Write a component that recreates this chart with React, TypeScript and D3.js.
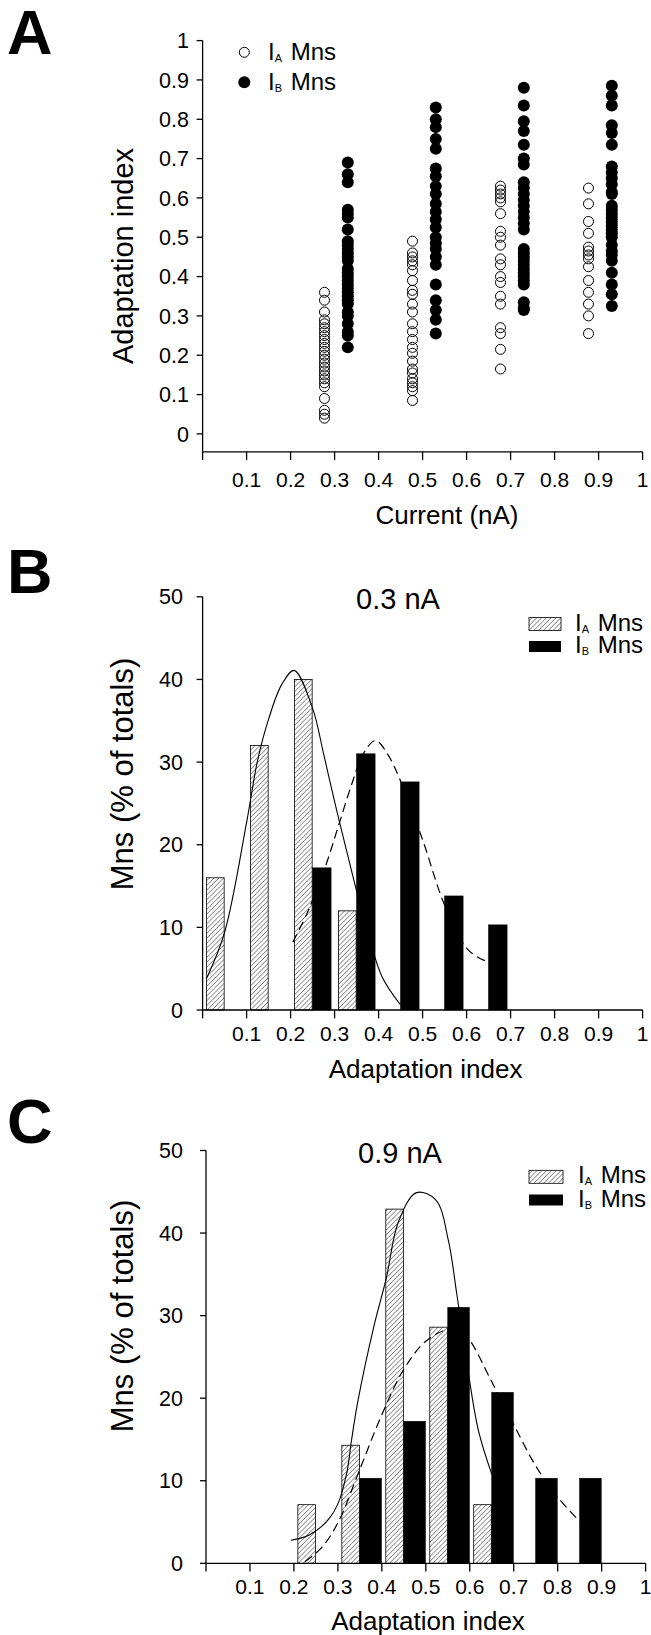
import React from 'react';
import * as d3 from 'd3';

// ---------- DATA ----------
const currents = [0.3, 0.5, 0.7, 0.9];

const iaAdaptation03 = [0.36, 0.34, 0.31, 0.29, 0.28, 0.27, 0.26, 0.25, 0.24, 0.23, 0.22, 0.21, 0.2, 0.19, 0.18, 0.17, 0.16, 0.15, 0.14, 0.13, 0.12, 0.09, 0.06, 0.05, 0.04];
const iaAdaptation05 = [0.49, 0.46, 0.45, 0.44, 0.43, 0.415, 0.39, 0.365, 0.355, 0.33, 0.31, 0.28, 0.26, 0.24, 0.22, 0.205, 0.185, 0.165, 0.155, 0.14, 0.13, 0.12, 0.11, 0.085];
const iaAdaptation07 = [0.63, 0.62, 0.61, 0.6, 0.59, 0.56, 0.515, 0.5, 0.48, 0.445, 0.43, 0.4, 0.385, 0.35, 0.33, 0.27, 0.255, 0.215, 0.165];
const iaAdaptation09 = [0.625, 0.585, 0.54, 0.51, 0.475, 0.465, 0.455, 0.445, 0.425, 0.39, 0.36, 0.33, 0.3, 0.255];

const ibAdaptation03 = [0.69, 0.66, 0.64, 0.57, 0.56, 0.55, 0.52, 0.49, 0.48, 0.47, 0.46, 0.45, 0.44, 0.42, 0.41, 0.4, 0.39, 0.38, 0.37, 0.36, 0.35, 0.34, 0.33, 0.31, 0.3, 0.28, 0.26, 0.25, 0.22];
const ibAdaptation05 = [0.83, 0.8, 0.78, 0.75, 0.725, 0.675, 0.655, 0.63, 0.61, 0.585, 0.565, 0.545, 0.525, 0.5, 0.485, 0.47, 0.45, 0.43, 0.38, 0.34, 0.315, 0.29, 0.255];
const ibAdaptation07 = [0.88, 0.835, 0.795, 0.77, 0.735, 0.7, 0.685, 0.64, 0.625, 0.61, 0.595, 0.58, 0.565, 0.55, 0.535, 0.52, 0.47, 0.46, 0.45, 0.44, 0.43, 0.42, 0.41, 0.4, 0.39, 0.38, 0.335, 0.32, 0.315];
const ibAdaptation09 = [0.885, 0.86, 0.835, 0.785, 0.765, 0.735, 0.68, 0.665, 0.65, 0.635, 0.615, 0.61, 0.58, 0.57, 0.56, 0.55, 0.54, 0.53, 0.52, 0.51, 0.5, 0.48, 0.465, 0.455, 0.44, 0.41, 0.38, 0.355, 0.325];

const iaByCurrent = [iaAdaptation03, iaAdaptation05, iaAdaptation07, iaAdaptation09];
const ibByCurrent = [ibAdaptation03, ibAdaptation05, ibAdaptation07, ibAdaptation09];

const xTicks = [0, 0.1, 0.2, 0.3, 0.4, 0.5, 0.6, 0.7, 0.8, 0.9, 1];
const xTickLabels = ['', '0.1', '0.2', '0.3', '0.4', '0.5', '0.6', '0.7', '0.8', '0.9', '1'];
const yTicksA = [0, 0.1, 0.2, 0.3, 0.4, 0.5, 0.6, 0.7, 0.8, 0.9, 1];
const yTickLabelsA = ['0', '0.1', '0.2', '0.3', '0.4', '0.5', '0.6', '0.7', '0.8', '0.9', '1'];
const yTicksHist = [0, 10, 20, 30, 40, 50];

// Histogram 0.3 nA (bin lower edges, % of totals)
const binsB_IA = [0, 0.1, 0.2, 0.3];
const pctB_IA = [16, 32, 40, 12];
const binsB_IB = [0.2, 0.3, 0.4, 0.5, 0.6];
const pctB_IB = [17.2, 31.0, 27.6, 13.8, 10.3];

// Histogram 0.9 nA
const binsC_IA = [0.2, 0.3, 0.4, 0.5, 0.6];
const pctC_IA = [7.1, 14.3, 42.9, 28.6, 7.1];
const binsC_IB = [0.3, 0.4, 0.5, 0.6, 0.7, 0.8];
const pctC_IB = [10.3, 17.2, 31.0, 20.7, 10.3, 10.3];

// Fitted curves
const fitB_IA_x = [0.0085, 0.05, 0.1, 0.125, 0.15, 0.18, 0.208, 0.25, 0.275, 0.3, 0.323, 0.35, 0.38, 0.408, 0.45];
const fitB_IA_y = [3.75, 9.4, 22.7, 30.2, 35.2, 39.4, 41.1, 36.5, 31, 25.2, 20.2, 14.4, 8.5, 4.0, 0.6];
const fitB_IB_x = [0.205, 0.24, 0.28, 0.31, 0.34, 0.365, 0.393, 0.42, 0.45, 0.5, 0.55, 0.6, 0.64, 0.672];
const fitB_IB_y = [8.2, 12.0, 17.5, 22.5, 27.5, 31.0, 32.6, 31.0, 27.7, 20.6, 12.7, 7.5, 6.0, 5.8];
const fitC_IA_x = [0.193, 0.225, 0.252, 0.28, 0.3, 0.32, 0.331, 0.345, 0.381, 0.41, 0.438, 0.479, 0.523, 0.551, 0.57, 0.597, 0.62, 0.65];
const fitC_IA_y = [2.8, 3.2, 4.0, 5.4, 7.2, 10.9, 14.9, 19.5, 28.5, 34.5, 41.4, 44.9, 44.0, 39.2, 32.8, 23.0, 16.0, 10.8];
const fitC_IB_x = [0.225, 0.263, 0.3, 0.35, 0.4, 0.45, 0.5, 0.55, 0.58, 0.6, 0.65, 0.7, 0.75, 0.8, 0.855];
const fitC_IB_y = [0.2, 1.9, 4.9, 11.4, 18.0, 23.5, 26.9, 28.3, 28.0, 27.0, 22.0, 16.8, 11.8, 8.0, 4.8];

// ---------- LAYOUT ----------
const FONT = 'Liberation Sans, Arial, Helvetica, sans-serif';
const W = 651;
const H = 1635;
const IA_OFF = -0.023;
const IB_OFF = 0.03;
const TICK_FS_Y = 21.5;
const TICK_FS_X = 21;

const xA = d3.scaleLinear().domain([0, 1]).range([202.6, 642.6]);
const yA = d3.scaleLinear().domain([0, 1]).range([433.9, 40.6]);
const axisA_Y = 451.8;

const xB = d3.scaleLinear().domain([0, 1]).range([202.6, 642.6]);
const yB = d3.scaleLinear().domain([0, 50]).range([1010, 596.8]);

const xC = d3.scaleLinear().domain([0, 1]).range([206, 645.6]);
const yC = d3.scaleLinear().domain([0, 50]).range([1563.3, 1150.5]);

const AX = 1.3;

function zip(xs: number[], ys: number[]): [number, number][] {
  return xs.map((x, i) => [x, ys[i]]);
}

function LegendLabel(props: { x: number; y: number; sub: string; fs: number }) {
  const { x, y, sub, fs } = props;
  return (
    <text x={x} y={y} fontSize={fs} fontFamily={FONT}>
      I
      <tspan fontSize={11} dy={2} dx={0}>
        {sub}
      </tspan>
      <tspan dy={-2} dx={fs * 0.36}>
        Mns
      </tspan>
    </text>
  );
}

type HistProps = {
  x: d3.ScaleLinear<number, number>;
  y: d3.ScaleLinear<number, number>;
  binsIA: number[];
  pctIA: number[];
  binsIB: number[];
  pctIB: number[];
  ibWidth: number;
  fitIA: [number, number][];
  fitIB: [number, number][];
  title: string;
  titleX: number;
  titleY: number;
  yLabelRight: number;
  xTitleX: number;
  xTitleY: number;
  yTitleX: number;
  yTitleY: number;
  legendBoxX: number;
  legendBoxW: number;
  legendRow1: number;
  legendRow2: number;
  legendTextX: number;
};

function Histogram(p: HistProps) {
  const { x, y } = p;
  const y0 = y(0);
  const x0 = x(0);
  const line = d3
    .line<[number, number]>()
    .x((d) => x(d[0]))
    .y((d) => y(d[1]))
    .curve(d3.curveCatmullRom.alpha(0.5));
  return (
    <g>
      {p.binsIA.map((b, i) => (
        <rect
          key={'ia' + i}
          x={x(b + 0.009)}
          y={y(p.pctIA[i])}
          width={x(b + 0.049) - x(b + 0.009)}
          height={y0 - y(p.pctIA[i])}
          fill="url(#hatch)"
          stroke="#000"
          strokeWidth={0.8}
        />
      ))}
      {p.binsIB.map((b, i) => (
        <rect
          key={'ib' + i}
          x={x(b + 0.05)}
          y={y(p.pctIB[i])}
          width={x(b + 0.05 + p.ibWidth) - x(b + 0.05)}
          height={y0 - y(p.pctIB[i])}
          fill="#000"
          stroke="#000"
          strokeWidth={0.6}
        />
      ))}
      <path d={line(p.fitIA) || ''} fill="none" stroke="#000" strokeWidth={1.1} />
      <path d={line(p.fitIB) || ''} fill="none" stroke="#000" strokeWidth={1.2} strokeDasharray="9,5" />
      <line x1={x0} x2={x0} y1={y(50)} y2={y0} stroke="#000" strokeWidth={AX} />
      <line x1={x0} x2={x(1)} y1={y0} y2={y0} stroke="#000" strokeWidth={AX} />
      {yTicksHist.map((t) => (
        <g key={'yt' + t}>
          <line x1={x0 - 6} x2={x0} y1={y(t)} y2={y(t)} stroke="#000" strokeWidth={AX} />
          <text x={p.yLabelRight} y={y(t) + 7.6} textAnchor="end" fontSize={TICK_FS_Y} fontFamily={FONT}>
            {t}
          </text>
        </g>
      ))}
      {xTicks.map((t, i) => (
        <g key={'xt' + i}>
          <line x1={x(t)} x2={x(t)} y1={y0} y2={y0 + 8.3} stroke="#000" strokeWidth={AX} />
          <text x={x(t)} y={y0 + 31} textAnchor="middle" fontSize={TICK_FS_X} fontFamily={FONT}>
            {xTickLabels[i]}
          </text>
        </g>
      ))}
      <text x={p.titleX} y={p.titleY} textAnchor="middle" fontSize={29} fontFamily={FONT}>
        {p.title}
      </text>
      <text x={p.xTitleX} y={p.xTitleY} textAnchor="middle" fontSize={26} fontFamily={FONT}>
        Adaptation index
      </text>
      <text
        transform={`translate(${p.yTitleX},${p.yTitleY}) rotate(-90)`}
        textAnchor="middle"
        fontSize={31}
        fontFamily={FONT}
      >
        Mns (% of totals)
      </text>
      <rect x={p.legendBoxX} y={p.legendRow1 - 13} width={p.legendBoxW} height={13} fill="url(#hatch)" stroke="#000" strokeWidth={0.8} />
      <rect x={p.legendBoxX} y={p.legendRow2 - 12} width={p.legendBoxW} height={11} fill="#000" />
      <LegendLabel x={p.legendTextX} y={p.legendRow1} sub="A" fs={24} />
      <LegendLabel x={p.legendTextX} y={p.legendRow2} sub="B" fs={24} />
    </g>
  );
}

function PanelA() {
  const x0 = xA(0);
  return (
    <g>
      {iaByCurrent.map((vals, gi) =>
        vals.map((v, i) => (
          <circle key={`ia${gi}-${i}`} cx={xA(currents[gi] + IA_OFF)} cy={yA(v)} r={5} fill="none" stroke="#000" strokeWidth={1} />
        ))
      )}
      {ibByCurrent.map((vals, gi) =>
        vals.map((v, i) => <circle key={`ib${gi}-${i}`} cx={xA(currents[gi] + IB_OFF)} cy={yA(v)} r={6} fill="#000" />)
      )}
      <line x1={x0} x2={x0} y1={yA(1)} y2={axisA_Y} stroke="#000" strokeWidth={AX} />
      <line x1={x0} x2={xA(1)} y1={axisA_Y} y2={axisA_Y} stroke="#000" strokeWidth={AX} />
      {yTicksA.map((t, i) => (
        <g key={'ya' + i}>
          <line x1={x0 - 6} x2={x0} y1={yA(t)} y2={yA(t)} stroke="#000" strokeWidth={AX} />
          <text x={189} y={yA(t) + 7.6} textAnchor="end" fontSize={TICK_FS_Y} fontFamily={FONT}>
            {yTickLabelsA[i]}
          </text>
        </g>
      ))}
      {xTicks.map((t, i) => (
        <g key={'xa' + i}>
          <line x1={xA(t)} x2={xA(t)} y1={axisA_Y} y2={axisA_Y + 8.3} stroke="#000" strokeWidth={AX} />
          <text x={xA(t)} y={axisA_Y + 35} textAnchor="middle" fontSize={TICK_FS_X} fontFamily={FONT}>
            {xTickLabels[i]}
          </text>
        </g>
      ))}
      <text x={447} y={524} textAnchor="middle" fontSize={26} fontFamily={FONT}>
        Current (nA)
      </text>
      <text transform={`translate(133,256) rotate(-90)`} textAnchor="middle" fontSize={29} fontFamily={FONT}>
        Adaptation index
      </text>
      <circle cx={244.3} cy={52.3} r={5} fill="none" stroke="#000" strokeWidth={1} />
      <circle cx={244.3} cy={82.3} r={6} fill="#000" />
      <LegendLabel x={268} y={60} sub="A" fs={24} />
      <LegendLabel x={268} y={90} sub="B" fs={24} />
    </g>
  );
}

export default function App() {
  return (
    <svg
      width={W}
      height={H}
      viewBox={`0 0 ${W} ${H}`}
      style={{ position: 'absolute', left: 0, top: 0, background: '#fff' }}
    >
      <defs>
        <pattern id="hatch" patternUnits="userSpaceOnUse" width={3.4} height={3.4} patternTransform="rotate(45)">
          <rect width={3.4} height={3.4} fill="#fff" />
          <line x1={0} y1={0} x2={0} y2={3.4} stroke="#000" strokeWidth={0.8} />
        </pattern>
      </defs>
      <rect width={W} height={H} fill="#fff" />
      <text x={7} y={53.5} fontSize={63} fontWeight="bold" fontFamily={FONT}>A</text>
      <text x={7} y={593} fontSize={63} fontWeight="bold" fontFamily={FONT}>B</text>
      <text x={7} y={1143} fontSize={63} fontWeight="bold" fontFamily={FONT}>C</text>
      <PanelA />
      <Histogram
        x={xB}
        y={yB}
        binsIA={binsB_IA}
        pctIA={pctB_IA}
        binsIB={binsB_IB}
        pctIB={pctB_IB}
        ibWidth={0.042}
        fitIA={zip(fitB_IA_x, fitB_IA_y)}
        fitIB={zip(fitB_IB_x, fitB_IB_y)}
        title="0.3 nA"
        titleX={398}
        titleY={608.5}
        yLabelRight={183}
        xTitleX={425.6}
        xTitleY={1078}
        yTitleX={133}
        yTitleY={774}
        legendBoxX={529}
        legendBoxW={32}
        legendRow1={630.5}
        legendRow2={653}
        legendTextX={575}
      />
      <Histogram
        x={xC}
        y={yC}
        binsIA={binsC_IA}
        pctIA={pctC_IA}
        binsIB={binsC_IB}
        pctIB={pctC_IB}
        ibWidth={0.049}
        fitIA={zip(fitC_IA_x, fitC_IA_y)}
        fitIB={zip(fitC_IB_x, fitC_IB_y)}
        title="0.9 nA"
        titleX={400}
        titleY={1163}
        yLabelRight={183}
        xTitleX={428}
        xTitleY={1630}
        yTitleX={133}
        yTitleY={1316}
        legendBoxX={529}
        legendBoxW={34}
        legendRow1={1183.3}
        legendRow2={1206.5}
        legendTextX={578}
      />
    </svg>
  );
}
